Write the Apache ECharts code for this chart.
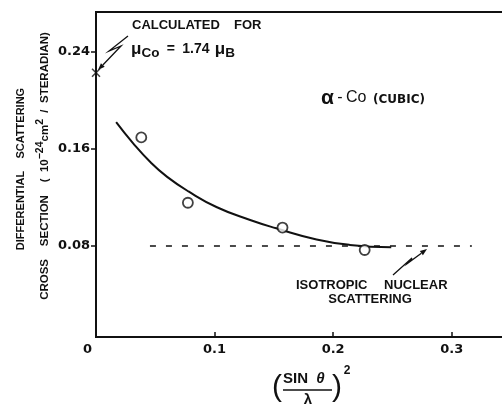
<!DOCTYPE html>
<html>
<head>
<meta charset="utf-8">
<script src="https://cdn.jsdelivr.net/npm/echarts@6/dist/echarts.min.js"></script>
<style>
html,body{margin:0;padding:0;background:#fff;}
#c{width:502px;height:404px;}
</style>
</head>
<body>
<div id="c"></div>
<script>
// ---- data ----
const curveX = [0.017, 0.031, 0.046, 0.060, 0.078, 0.102, 0.130, 0.152, 0.186, 0.214, 0.249];
const curveY = [0.182, 0.165, 0.149, 0.137, 0.125, 0.112, 0.1015, 0.0947, 0.0855, 0.081, 0.079];
const measuredX = [0.0382, 0.0775, 0.1573, 0.2266];
const measuredY = [0.1695, 0.1157, 0.0953, 0.0768];
const calculatedX = [0];
const calculatedY = [0.2227];
const nuclearX = [0.0455, 0.317];
const nuclearY = [0.08, 0.08];
const xTickValues = [0, 0.1, 0.2, 0.3];
const xTickLabels = ['0', '0.1', '0.2', '0.3'];
const yTickValues = [0.08, 0.16, 0.24];
const yTickLabels = ['0.08', '0.16', '0.24'];

const INK = '#111';
const LIB = '"Liberation Sans", Arial, sans-serif';
const DJ = '"DejaVu Sans", sans-serif';

const zip = (a, b) => a.map((v, i) => [v, b[i]]);

function arrow(pts) {
  const n = pts.length;
  const tip = pts[n - 1], prev = pts[n - 2];
  let dx = tip[0] - prev[0], dy = tip[1] - prev[1];
  const L = Math.hypot(dx, dy); dx /= L; dy /= L;
  const len = 7, hw = 2.6;
  const bx = tip[0] - dx * len, by = tip[1] - dy * len;
  const line = pts.slice(0, n - 1).concat([[bx, by]]);
  return [
    {type: 'polyline', shape: {points: line}, style: {stroke: INK, lineWidth: 1.3, fill: null}},
    {type: 'polygon', shape: {points: [tip, [bx - dy * hw, by + dx * hw], [bx + dy * hw, by - dx * hw]]}, style: {fill: INK}}
  ];
}

const chart = echarts.init(document.getElementById('c'), null, {renderer: 'canvas'});

const xMark = 'path://M0,1.2 L1.2,0 L5,3.8 L8.8,0 L10,1.2 L6.2,5 L10,8.8 L8.8,10 L5,6.2 L1.2,10 L0,8.8 L3.8,5 Z';

const option = {
  backgroundColor: '#fff',
  animation: false,
  grid: {left: 96, top: 12, width: 415, height: 325, outerBoundsMode: 'none', containLabel: false,
    show: true, borderColor: INK, borderWidth: 2, backgroundColor: 'transparent'},
  xAxis: {
    type: 'value', min: 0, max: 0.35,
    axisLine: {show: true, onZero: false, lineStyle: {color: INK, width: 2}},
    axisTick: {show: true, inside: true, length: 5, customValues: xTickValues.slice(1), lineStyle: {color: INK, width: 1.5}},
    axisLabel: {
      customValues: xTickValues,
      formatter: v => {
        const i = xTickValues.findIndex(t => Math.abs(t - v) < 1e-9);
        const s = i >= 0 ? xTickLabels[i] : '';
        return v === 0 ? '{z|' + s + '}' : s;
      },
      margin: 6, color: INK, fontFamily: DJ, fontWeight: 'bold', fontSize: 13,
      rich: {z: {padding: [0, 17, 0, 0], color: INK, fontFamily: DJ, fontWeight: 'bold', fontSize: 13}}
    },
    splitLine: {show: false}
  },
  yAxis: {
    type: 'value', min: 0.0052, max: 0.2727,
    axisLine: {show: true, onZero: false, lineStyle: {color: INK, width: 2}},
    axisTick: {show: true, inside: false, length: 5, customValues: yTickValues, lineStyle: {color: INK, width: 1.5}},
    axisLabel: {
      customValues: yTickValues,
      formatter: v => {
        const i = yTickValues.findIndex(t => Math.abs(t - v) < 1e-9);
        return i >= 0 ? yTickLabels[i] : '';
      },
      margin: 6, color: INK, fontFamily: DJ, fontWeight: 'bold', fontSize: 13
    },
    splitLine: {show: false}
  },
  series: [
    {
      type: 'line', name: 'fit', data: zip(curveX, curveY), smooth: 0.5, showSymbol: false,
      lineStyle: {color: INK, width: 2}, clip: false, z: 3
    },
    {
      type: 'line', name: 'nuclear', data: zip(nuclearX, nuclearY), showSymbol: false,
      lineStyle: {color: INK, width: 1.5, type: [6, 10]}, z: 2
    },
    {
      type: 'scatter', name: 'measured', data: zip(measuredX, measuredY), symbol: 'circle', symbolSize: 10,
      itemStyle: {color: '#fff', borderColor: INK, borderWidth: 1.8}, z: 4
    },
    {
      type: 'scatter', name: 'calculated', data: zip(calculatedX, calculatedY), symbol: xMark, symbolSize: 9,
      itemStyle: {color: INK}, clip: false, z: 5
    }
  ],
  graphic: [
    // y-axis title (two rotated lines)
    {type: 'text', x: 21, y: 169, rotation: Math.PI / 2,
      style: {text: 'DIFFERENTIAL    SCATTERING', fill: INK, fontFamily: LIB, fontWeight: 'bold', fontSize: 11, textAlign: 'center', textVerticalAlign: 'middle'}},
    {type: 'text', x: 45, y: 166, rotation: Math.PI / 2,
      style: {text: 'CROSS    SECTION    (  10{sup|−24}cm{sup|2}  /  STERADIAN)', fill: INK, fontFamily: LIB, fontWeight: 'bold', fontSize: 11.5, textAlign: 'center', textVerticalAlign: 'middle',
        rich: {sup: {fontFamily: LIB, fontWeight: 'bold', fontSize: 10.5, fill: INK, verticalAlign: 'bottom', padding: [0, 0, 9, 0]}}}},
    // annotations
    {type: 'text', x: 132, y: 25, style: {text: 'CALCULATED', fill: INK, fontFamily: LIB, fontWeight: 'bold', fontSize: 13, textAlign: 'left', textVerticalAlign: 'middle'}},
    {type: 'text', x: 234, y: 25, style: {text: 'FOR', fill: INK, fontFamily: LIB, fontWeight: 'bold', fontSize: 13, textAlign: 'left', textVerticalAlign: 'middle'}},
    {type: 'text', x: 131, y: 49, style: {text: '{mu|μ}{sub|Co} {t|=} {t|1.74} {mu|μ}{sub|B}', fill: INK, textAlign: 'left', textVerticalAlign: 'middle',
      rich: {
        mu: {fontFamily: LIB, fontWeight: 'bold', fontSize: 17, fill: INK},
        sub: {fontFamily: LIB, fontWeight: 'bold', fontSize: 13.5, fill: INK, padding: [9, 2, 0, 0]},
        t: {fontFamily: LIB, fontWeight: 'bold', fontSize: 14, fill: INK, padding: [0, 2, 0, 2]}
      }}},
    {type: 'text', x: 321, y: 98, style: {text: '{a|α} {t|-} {t|Co}  {s|(CUBIC)}', fill: INK, textAlign: 'left', textVerticalAlign: 'middle',
      rich: {
        a: {fontFamily: LIB, fontWeight: 'bold', fontSize: 21, fill: INK},
        t: {fontFamily: LIB, fontSize: 16, fill: INK},
        s: {fontFamily: DJ, fontWeight: 'bold', fontSize: 12, fill: INK, padding: [3, 0, 0, 0]}
      }}},
    {type: 'text', x: 296, y: 285, style: {text: 'ISOTROPIC', fill: INK, fontFamily: LIB, fontWeight: 'bold', fontSize: 13, textAlign: 'left', textVerticalAlign: 'middle'}},
    {type: 'text', x: 384, y: 285, style: {text: 'NUCLEAR', fill: INK, fontFamily: LIB, fontWeight: 'bold', fontSize: 13, textAlign: 'left', textVerticalAlign: 'middle'}},
    {type: 'text', x: 370, y: 299, style: {text: 'SCATTERING', fill: INK, fontFamily: LIB, fontWeight: 'bold', fontSize: 13, textAlign: 'center', textVerticalAlign: 'middle'}},
    // x-axis title: (SIN θ / λ)^2
    {type: 'text', x: 277, y: 388, style: {text: '(', fill: INK, fontFamily: LIB, fontSize: 30, textAlign: 'center', textVerticalAlign: 'middle'}},
    {type: 'text', x: 283, y: 379, style: {text: 'SIN  {th|θ}', fill: INK, fontFamily: LIB, fontWeight: 'bold', fontSize: 15, textAlign: 'left', textVerticalAlign: 'middle',
      rich: {th: {fontFamily: LIB, fontWeight: 'bold', fontStyle: 'italic', fontSize: 15, fill: INK}}}},
    {type: 'line', shape: {x1: 283, y1: 390, x2: 332, y2: 390}, style: {stroke: INK, lineWidth: 1.6}},
    {type: 'text', x: 308, y: 400, style: {text: 'λ', fill: INK, fontFamily: LIB, fontWeight: 'bold', fontSize: 15, textAlign: 'center', textVerticalAlign: 'middle'}},
    {type: 'text', x: 337, y: 388, style: {text: ')', fill: INK, fontFamily: LIB, fontSize: 30, textAlign: 'center', textVerticalAlign: 'middle'}},
    {type: 'text', x: 347, y: 371, style: {text: '2', fill: INK, fontFamily: LIB, fontWeight: 'bold', fontSize: 12, textAlign: 'center', textVerticalAlign: 'middle'}}
  ]
    .concat(arrow([[128, 36], [109, 51], [121, 46], [98, 70]]))
    .concat(arrow([[393, 275], [412, 258], [408, 263], [427, 249]]))
};

chart.setOption(option);
</script>
</body>
</html>
